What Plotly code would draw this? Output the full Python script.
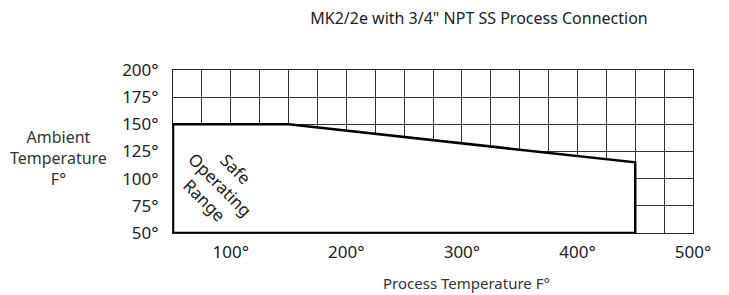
import plotly.graph_objects as go

# Data
title_text = 'MK2/2e with 3/4" NPT SS Process Connection'
x_tick_vals = [100, 200, 300, 400, 500]
x_tick_text = ["100°", "200°", "300°", "400°", "500°"]
y_tick_vals = [50, 75, 100, 125, 150, 175, 200]
y_tick_text = ["50°", "75°", "100°", "125°", "150°", "175°", "200°"]
safe_x = [50, 50, 150, 450, 450, 50]
safe_y = [50, 150, 150, 115, 50, 50]
x_range = [50, 500]
y_range = [50, 200]
grid_step = 25

FONT = "Noto Sans"
W, H = 729, 295
ML, MR, MT, MB = 165, 44, 62, 70
PW = W - ML - MR
PH = H - MT - MB

fig = go.Figure()
fig.add_trace(go.Scatter(
    x=safe_x, y=safe_y, mode="lines", fill="toself",
    fillcolor="white", line=dict(color="black", width=2.5),
    hoverinfo="skip", showlegend=False,
))

fig.add_annotation(
    x=91, y=95, xref="x", yref="y",
    text="Safe<br>Operating<br>Range", textangle=45, showarrow=False,
    font=dict(family=FONT, size=17, color="#222"), align="center",
)
fig.add_annotation(
    x=(50 - ML) / PW, y=119, xref="paper", yref="y", xanchor="center", yanchor="middle",
    text="Ambient<br>Temperature<br>F°", showarrow=False,
    font=dict(family=FONT, size=16, color="#333"), align="center",
)
fig.add_annotation(
    x=(458 - ML) / PW, y=-50 / PH, xref="paper", yref="paper", xanchor="center", yanchor="middle",
    text="Process Temperature F°", showarrow=False,
    font=dict(family=FONT, size=15, color="#333"),
)

axis_common = dict(
    showline=True, linecolor="#222", linewidth=1, mirror=True,
    showgrid=True, gridcolor="#333", gridwidth=1,
    zeroline=False, ticks="",
    tickfont=dict(family=FONT, size=17, color="#222"),
    minor=dict(dtick=grid_step, showgrid=True, gridcolor="#333", gridwidth=1),
)

fig.update_xaxes(
    range=x_range, tickvals=x_tick_vals, ticktext=x_tick_text,
    ticklabelstandoff=4, **axis_common,
)
fig.update_yaxes(
    range=y_range, tickvals=y_tick_vals, ticktext=y_tick_text,
    ticklabelstandoff=10, **axis_common,
)

fig.update_layout(
    width=W, height=H,
    margin=dict(l=ML, r=MR, t=MT, b=MB),
    paper_bgcolor="white", plot_bgcolor="white",
    title=dict(text=title_text, x=471 / W, xanchor="center", y=1 - 10 / H, yanchor="middle",
               font=dict(family=FONT, size=16, color="#222")),
)

fig.write_html("out.html")
